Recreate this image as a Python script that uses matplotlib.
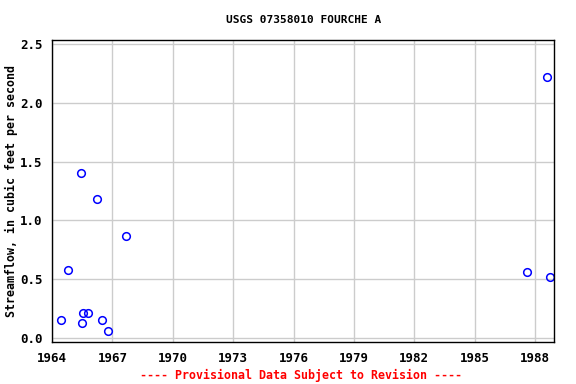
import matplotlib
matplotlib.use("Agg")
import matplotlib.pyplot as plt

# sample dates (decimal years) and streamflow values
years = [1964.46, 1964.78, 1965.46, 1965.51, 1965.56, 1965.80, 1966.22,
         1966.48, 1966.80, 1967.69, 1987.61, 1988.61, 1988.74]
flow = [0.16, 0.58, 1.40, 0.135, 0.22, 0.22, 1.18,
        0.16, 0.06, 0.87, 0.56, 2.22, 0.52]

xticks = list(range(1964, 1989, 3))
yticks = [0.0, 0.5, 1.0, 1.5, 2.0, 2.5]

font = {"family": "DejaVu Sans Mono", "weight": "bold"}

fig = plt.figure(figsize=(5.76, 3.84), dpi=100)
ax = fig.add_axes([0.0903, 0.1094, 0.872, 0.7864])

ax.plot(years, flow, linestyle="none", marker="o", markersize=5.5,
        markerfacecolor="none", markeredgecolor="blue", markeredgewidth=1.1)

ax.set_xlim(1964, 1988.95)
ax.set_ylim(-0.03, 2.53)
ax.set_xticks(xticks)
ax.set_yticks(yticks)
ax.set_xticklabels([str(t) for t in xticks], size=9, **font)
ax.set_yticklabels([f"{t:.1f}" for t in yticks], size=9, **font)
ax.grid(True, color="#cccccc", linewidth=1)
ax.set_axisbelow(True)
ax.tick_params(length=0, pad=7)
for s in ax.spines.values():
    s.set_linewidth(1)

ax.set_title("USGS 07358010 FOURCHE A", size=8, pad=12, **font)
ax.set_ylabel("Streamflow, in cubic feet per second", size=8.4, va="center", **font)
ax.yaxis.set_label_coords(-0.08, 0.5)
fig.text(0.5234, 0.013, "---- Provisional Data Subject to Revision ----",
         color="red", ha="center", size=8.4, **font)

fig.savefig("out.png", dpi=100)
